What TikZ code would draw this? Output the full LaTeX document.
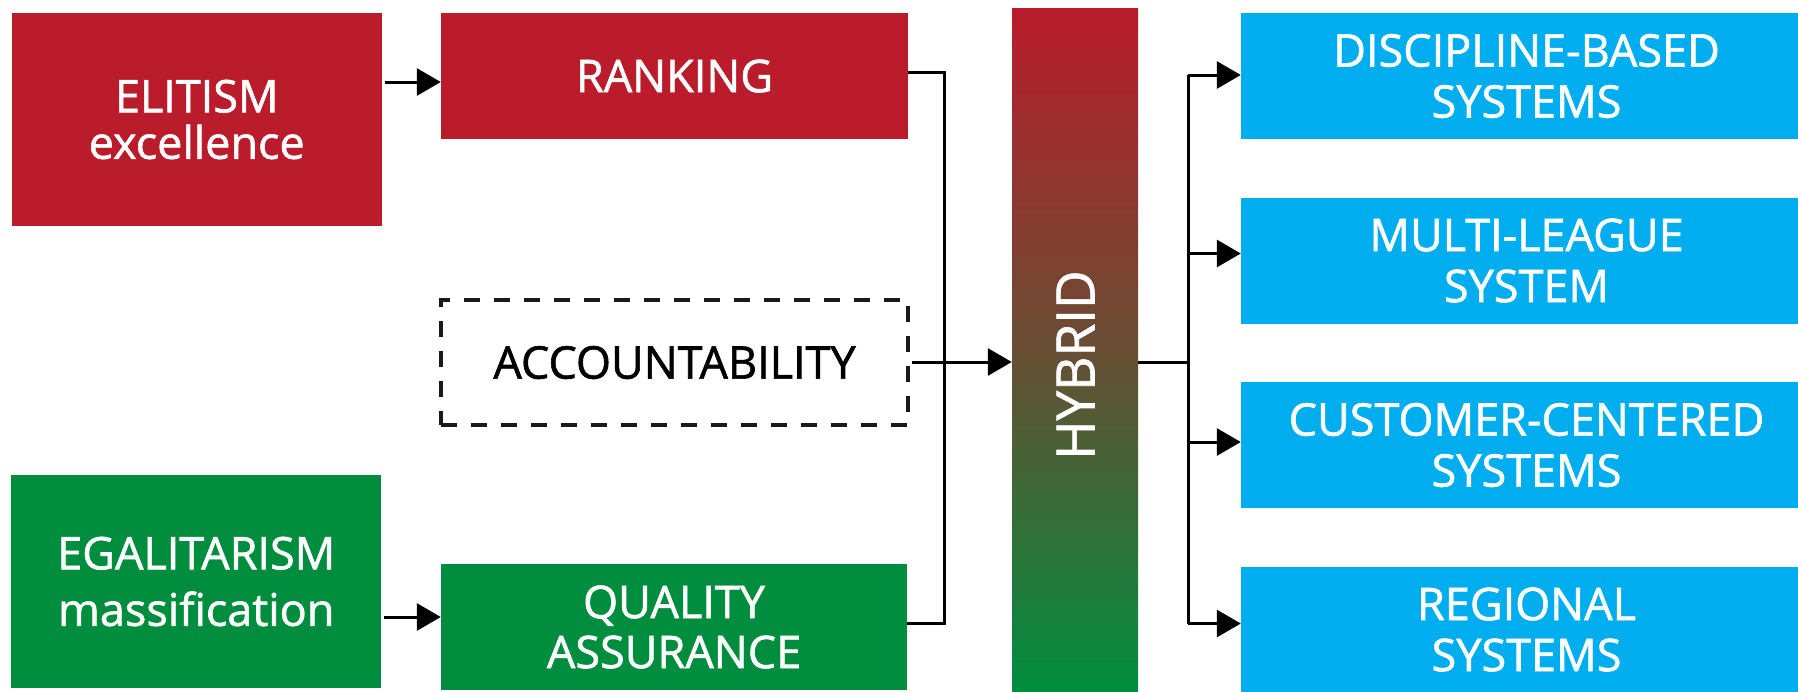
\documentclass[tikz,border=0pt]{standalone}
\usepackage{fontspec}
\setmainfont{Open Sans}[FakeBold=1.3]
\usetikzlibrary{arrows.meta,calc}
\definecolor{cred}{RGB}{186,28,44}
\definecolor{cgreen}{RGB}{0,142,62}
\definecolor{cblue}{RGB}{0,173,238}
\definecolor{cmid}{RGB}{104,78,52}
\tikzset{
  box/.style={draw=none, inner sep=0pt, align=center, text=white},
  redbox/.style={box, fill=cred},
  greenbox/.style={box, fill=cgreen},
  bluebox/.style={box, fill=cblue, minimum width=571pt, font=\fontsize{45}{51}\selectfont},
  dashbox/.style={draw=black!90, line width=4pt, dash pattern=on 16pt off 14pt, inner sep=0pt, text=black},
  conn/.style={line width=3pt, black},
  arr/.style={conn, -{Triangle[length=24pt,width=27pt]}},
}
\begin{document}
\begin{tikzpicture}[x=1pt,y=-1pt]
\useasboundingbox (0,0) rectangle (1798,691);
% left column
\node[redbox, minimum width=370pt, minimum height=213pt, font=\fontsize{45}{46.5}\selectfont] (elit) at (196.75,119.5) {ELITISM\\excellence};
\node[greenbox, minimum width=370pt, minimum height=213pt, font=\fontsize{45}{56.5}\selectfont] (egal) at (196.25,581.5) {EGALITARISM\\massification};
% middle column
\node[redbox, minimum width=467pt, minimum height=126pt, font=\fontsize{45}{50}\selectfont] (rank) at (674.5,76) {RANKING};
\node[dashbox, minimum width=467pt, minimum height=125pt, font=\fontsize{45}{50}\selectfont] (acc) at (674.5,362.5) {ACCOUNTABILITY};
\node[greenbox, minimum width=466pt, minimum height=126pt, font=\fontsize{45}{50}\selectfont] (qa) at (674,627) {QUALITY\\ASSURANCE};
% hybrid bar
\node[box, minimum width=126pt, minimum height=683pt, top color=cred, bottom color=cgreen, middle color=cmid] (hyb) at (1075,349.5) {};
\node[text=white, rotate=90, font=\fontsize{53}{55}\selectfont, inner sep=0pt] (hybt) at (1075.5,365) {HYBRID};
% right column
\node[bluebox, minimum height=126pt] (b1) at (1526.5,76) {DISCIPLINE-BASED\\SYSTEMS};
\node[bluebox, minimum height=126pt] (b2) at (1526.5,260.5) {MULTI-LEAGUE\\SYSTEM};
\node[bluebox, minimum height=126pt] (b3) at (1526.5,445) {CUSTOMER-CENTERED\\SYSTEMS};
\node[bluebox, minimum height=126pt] (b4) at (1526.5,629.5) {REGIONAL\\SYSTEMS};
% bus coordinates
\coordinate (bus) at (944,362);
\coordinate (bus2) at (1188,362);
% connectors
\draw[arr] ([yshift=-6pt]rank.west -| elit.east) ++(3,0) -- ([yshift=-6pt]rank.west);
\draw[arr] ([yshift=10pt]qa.west -| egal.east) ++(3,0) -- ([yshift=10pt]qa.west);
\draw[conn] ([yshift=4pt]rank.east) -| (bus) |- ([yshift=4pt]qa.east);
\draw[arr] ([xshift=2pt]acc.east |- bus) -- (bus -| hyb.west);
\draw[conn] (hyb.east |- bus2) -- (bus2);
\draw[conn] ([yshift=1pt]bus2 |- b1.west) -- ([yshift=6pt]bus2 |- b4.west);
\draw[arr] ([yshift=1pt]bus2 |- b1.west) -- ([yshift=1pt]b1.west);
\draw[arr] ([yshift=7pt]bus2 |- b2.west) -- ([yshift=7pt]b2.west);
\draw[arr] ([yshift=3pt]bus2 |- b3.west) -- ([yshift=3pt]b3.west);
\draw[arr] ([yshift=6pt]bus2 |- b4.west) -- ([yshift=6pt]b4.west);
\end{tikzpicture}
\end{document}
